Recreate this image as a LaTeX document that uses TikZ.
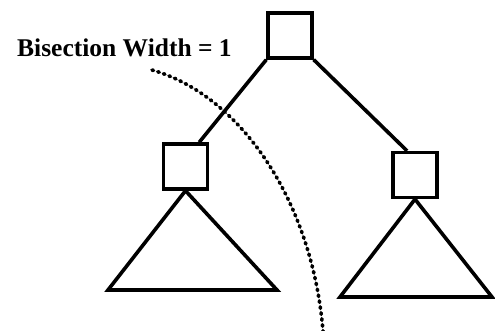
\documentclass[tikz,border=0pt]{standalone}
\usepackage{fontspec}
\setmainfont{Liberation Serif}
\usetikzlibrary{positioning,calc}
\tikzset{
  proc/.style={draw, rectangle, line width=3.4pt, minimum width=44pt, minimum height=45pt, inner sep=0pt},
  link/.style={line width=3.6pt},
  subtree/.style={line width=3.6pt, line join=miter},
  cut/.style={line width=3.6pt, dash pattern=on 1.6pt off 4.4pt, line cap=round},
}
\begin{document}
\begin{tikzpicture}[x=1pt, y=-1pt]
  \useasboundingbox (0,0) rectangle (495,331);

  \node[proc] (root) at (290,35.5) {};
  \node[proc] (lchild) at (185.5,166.5) {};
  \node[proc] (rchild) at (415,175) {};

  \node[font=\bfseries\fontsize{25.5}{30}\selectfont, anchor=base west, inner sep=0pt] (label) at (17,57) {Bisection Width = 1};

  \draw[link] (root.south west) -- ($(lchild.north east)+(-10,0)$);
  \draw[link] (root.south east) -- ($(rchild.north)+(-8,0)$);

  % subtrees under the children
  \draw[subtree] (lchild.south) -- (108,290) -- (277,290) -- cycle;
  \draw[subtree] (rchild.south) -- (340,297) -- (492,297) -- cycle;

  % the cut
  \coordinate (cutstart) at (152,70);
  \coordinate (cutend) at (323,331);
  \draw[cut] (cutstart) .. controls (240,95) and (312,200) .. (cutend);
\end{tikzpicture}
\end{document}
